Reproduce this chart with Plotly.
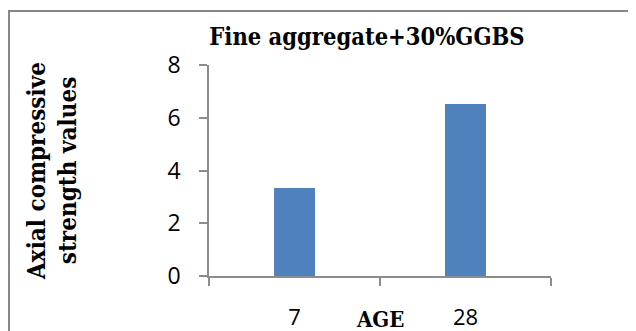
import plotly.graph_objects as go

categories = ["7", "28"]
values = [3.35, 6.53]
y_ticks = [0, 2, 4, 6, 8]

title_text = "Fine aggregate+30%GGBS"
x_title = "AGE"
y_title = "Axial compressive<br>strength values"

# page body adds an 8px offset, so the figure is drawn 8px smaller
W, H = 628, 323
L, R, T, B = 201, 85, 57, 55
pw, ph = W - L - R, H - T - B

serif = "DejaVu Serif Condensed, DejaVu Serif"
sans = "Open Sans"

fig = go.Figure()
fig.add_trace(go.Bar(
    x=categories, y=values, width=0.234,
    marker=dict(color="#4F81BD", line=dict(width=0)),
))

axis_col = "#8C8C8C"
fig.update_layout(
    width=W, height=H,
    margin=dict(l=L, r=R, t=T, b=B, pad=0),
    paper_bgcolor="white", plot_bgcolor="white",
    showlegend=False,
    bargap=0,
    title=dict(
        text="<b>" + title_text + "</b>",
        font=dict(family=serif, size=23.5, color="black"),
        x=359 / W, xanchor="center", xref="container",
        y=1 - 29 / H, yanchor="middle", yref="container",
    ),
    xaxis=dict(
        type="category", range=[-0.5, 1.5], automargin=False,
        tickson="boundaries", ticks="outside", ticklen=8, tickwidth=1.5,
        tickcolor=axis_col, showline=True, linecolor=axis_col, linewidth=1.5,
        showgrid=False, zeroline=False,
        tickfont=dict(family=sans, size=22, color="black"),
        ticklabelstandoff=21,
    ),
    yaxis=dict(
        range=[0, 8], tickvals=y_ticks, ticktext=[str(v) for v in y_ticks],
        automargin=False,
        ticks="outside", ticklen=8, tickwidth=1.5, tickcolor=axis_col,
        showline=True, linecolor=axis_col, linewidth=1.5,
        showgrid=False, zeroline=False,
        tickfont=dict(family=sans, size=23, color="black"),
        ticklabelstandoff=14,
        title=dict(text="<b>" + y_title + "</b>",
                   font=dict(family=serif, size=24, color="black"),
                   standoff=84),
    ),
)

# x-axis title sits on the tick-label row, between the two categories
fig.add_annotation(
    text="<b>" + x_title + "</b>", xref="x", yref="paper",
    x=0.5, y=-(311 - (T + ph)) / ph, yanchor="middle", showarrow=False,
    font=dict(family=serif, size=22, color="black"),
)

# outer chart frame (extends past the right and bottom edges)
fig.add_shape(type="rect", xref="paper", yref="paper",
              x0=(1 - L) / pw, x1=(W + 20 - L) / pw,
              y0=-(B + 20) / ph, y1=(T + ph - 3) / ph,
              line=dict(color="#878787", width=2), fillcolor="rgba(0,0,0,0)",
              layer="below")

fig.write_html("out.html")
